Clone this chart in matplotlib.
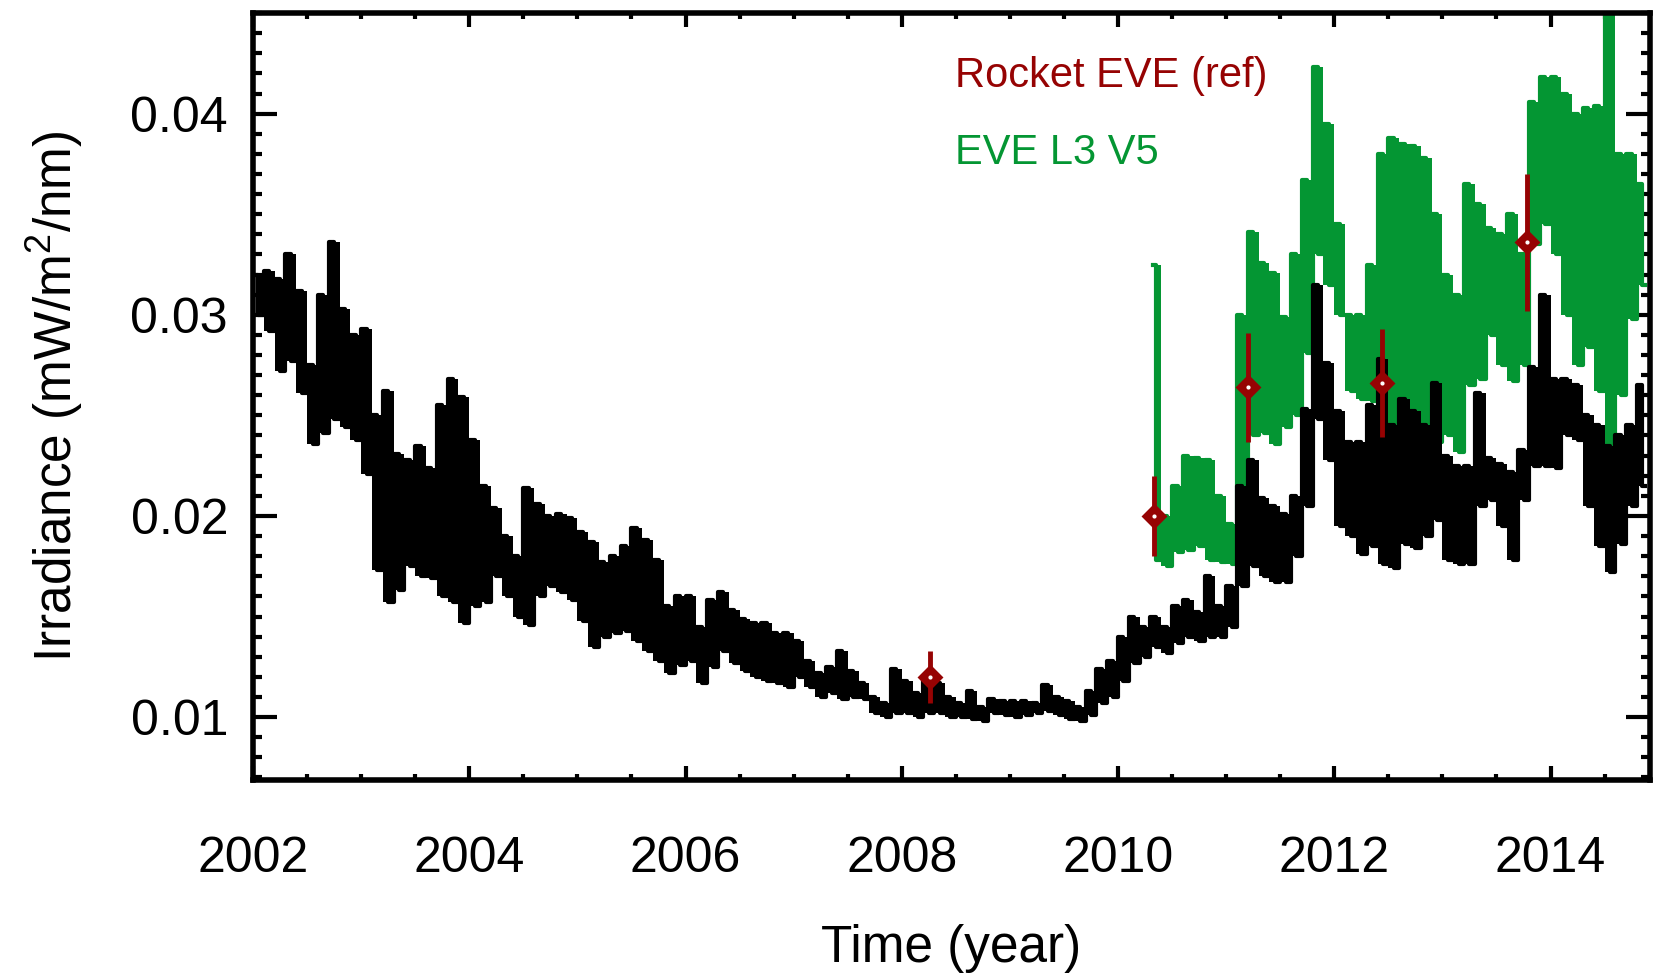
import numpy as np
import matplotlib.pyplot as plt
from matplotlib.ticker import MultipleLocator

plt.rcParams['font.family'] = 'Liberation Sans'
plt.rcParams['mathtext.fontset'] = 'custom'
plt.rcParams['mathtext.rm'] = 'Liberation Sans'
plt.rcParams['mathtext.it'] = 'Liberation Sans:italic'

# black series, read per 0.1 yr column: top and bottom of the daily scatter
black_t = np.round(np.arange(2002.05, 2014.9, 0.1), 2)
black_hi = [0.0320, 0.0322, 0.0318, 0.0330, 0.0312, 0.0275, 0.0310, 0.0336, 0.0303, 0.0290,
            0.0293, 0.0250, 0.0262, 0.0231, 0.0228, 0.0235, 0.0224, 0.0255, 0.0268, 0.0259,
            0.0238, 0.0215, 0.0204, 0.0190, 0.0180, 0.0214, 0.0206, 0.0200, 0.0201, 0.0199,
            0.0192, 0.0187, 0.0177, 0.0180, 0.0185, 0.0194, 0.0188, 0.0178, 0.0155, 0.0160,
            0.0160, 0.0145, 0.0158, 0.0162, 0.0153, 0.0149, 0.0147, 0.0147, 0.0142, 0.0142,
            0.0138, 0.0128, 0.0122, 0.0125, 0.0133, 0.0123, 0.0117, 0.0110, 0.0107, 0.0124,
            0.0118, 0.0112, 0.0120, 0.0117, 0.0110, 0.0107, 0.0113, 0.0105, 0.0109, 0.0108,
            0.0108, 0.0108, 0.0107, 0.0116, 0.0110, 0.0108, 0.0105, 0.0113, 0.0124, 0.0128,
            0.0140, 0.0150, 0.0145, 0.0150, 0.0145, 0.0155, 0.0158, 0.0152, 0.0170, 0.0155,
            0.0165, 0.0215, 0.0228, 0.0209, 0.0205, 0.0201, 0.0210, 0.0253, 0.0315, 0.0276,
            0.0252, 0.0237, 0.0237, 0.0255, 0.0278, 0.0245, 0.0258, 0.0252, 0.0245, 0.0266,
            0.0230, 0.0225, 0.0225, 0.0261, 0.0229, 0.0226, 0.0222, 0.0233, 0.0274, 0.0310,
            0.0268, 0.0268, 0.0265, 0.0250, 0.0245, 0.0235, 0.0240, 0.0245, 0.0265]
black_lo = [0.0300, 0.0292, 0.0272, 0.0277, 0.0261, 0.0236, 0.0241, 0.0248, 0.0244, 0.0238,
            0.0221, 0.0173, 0.0157, 0.0163, 0.0175, 0.0170, 0.0169, 0.0160, 0.0157, 0.0147,
            0.0155, 0.0157, 0.0170, 0.0160, 0.0150, 0.0146, 0.0160, 0.0165, 0.0162, 0.0158,
            0.0148, 0.0135, 0.0140, 0.0142, 0.0143, 0.0138, 0.0133, 0.0128, 0.0122, 0.0126,
            0.0128, 0.0117, 0.0125, 0.0133, 0.0127, 0.0123, 0.0120, 0.0118, 0.0117, 0.0115,
            0.0120, 0.0115, 0.0110, 0.0112, 0.0109, 0.0110, 0.0109, 0.0102, 0.0100, 0.0102,
            0.0102, 0.0100, 0.0102, 0.0102, 0.0100, 0.0100, 0.0099, 0.0098, 0.0102, 0.0101,
            0.0100, 0.0101, 0.0102, 0.0103, 0.0101, 0.0099, 0.0098, 0.0101, 0.0107, 0.0110,
            0.0118, 0.0127, 0.0130, 0.0135, 0.0132, 0.0137, 0.0140, 0.0138, 0.0140, 0.0140,
            0.0145, 0.0165, 0.0175, 0.0170, 0.0167, 0.0167, 0.0180, 0.0205, 0.0248, 0.0228,
            0.0195, 0.0190, 0.0181, 0.0185, 0.0176, 0.0174, 0.0186, 0.0184, 0.0190, 0.0198,
            0.0178, 0.0176, 0.0176, 0.0205, 0.0208, 0.0195, 0.0178, 0.0208, 0.0225, 0.0225,
            0.0224, 0.0240, 0.0238, 0.0205, 0.0185, 0.0172, 0.0186, 0.0205, 0.0215]

# EVE L3 V5
green_t = np.round(np.arange(2010.35, 2014.9, 0.1), 2)
green_hi = [0.0325, 0.0200, 0.0215, 0.0230, 0.0229, 0.0228, 0.0210, 0.0196, 0.0300, 0.0341,
            0.0326, 0.0321, 0.0299, 0.0330, 0.0367, 0.0423, 0.0395, 0.0345, 0.0300, 0.0300,
            0.0325, 0.0380, 0.0388, 0.0385, 0.0384, 0.0378, 0.0350, 0.0320, 0.0310, 0.0365,
            0.0355, 0.0343, 0.0340, 0.0350, 0.0330, 0.0406, 0.0418, 0.0418, 0.0410, 0.0400,
            0.0403, 0.0404, 0.0450, 0.0380, 0.0380, 0.0365]
green_lo = [0.0178, 0.0175, 0.0182, 0.0183, 0.0185, 0.0178, 0.0177, 0.0176, 0.0195, 0.0240,
            0.0241, 0.0236, 0.0244, 0.0250, 0.0281, 0.0330, 0.0315, 0.0300, 0.0262, 0.0258,
            0.0257, 0.0247, 0.0246, 0.0248, 0.0240, 0.0236, 0.0237, 0.0240, 0.0232, 0.0265,
            0.0268, 0.0290, 0.0275, 0.0267, 0.0275, 0.0335, 0.0345, 0.0330, 0.0300, 0.0275,
            0.0284, 0.0262, 0.0235, 0.0260, 0.0298, 0.0315]

# Rocket EVE (ref)
rocket_t = [2008.26, 2010.33, 2011.20, 2012.44, 2013.78]
rocket_v = [0.0120, 0.0200, 0.0264, 0.0266, 0.0336]
rocket_err = [0.0013, 0.0020, 0.0027, 0.0027, 0.0034]

xticks = [2002, 2004, 2006, 2008, 2010, 2012, 2014]
xlabels = ['2002', '2004', '2006', '2008', '2010', '2012', '2014']
yticks = [0.01, 0.02, 0.03, 0.04]
ylabels = ['0.01', '0.02', '0.03', '0.04']

dark_red = '#960303'
green = '#049633'


def zigzag(t, hi, lo):
    # upper value then lower value inside each column
    t = np.asarray(t)
    tt = np.column_stack([t - 0.025, t + 0.025]).ravel()
    vv = np.column_stack([hi, lo]).ravel()
    return tt, vv


def band(ax, t, hi, lo, color, z):
    ax.fill_between(t, lo, hi, step='mid', color=color, lw=0, zorder=z)
    tt, vv = zigzag(t, hi, lo)
    ax.plot(tt, vv, color=color, lw=3, drawstyle='steps-mid', zorder=z)


fig = plt.figure(figsize=(16.54, 9.77), dpi=100)
ax = fig.add_axes([0.153, 0.2016, 0.8446, 0.785])

band(ax, green_t, green_hi, green_lo, green, 2)
band(ax, black_t, black_hi, black_lo, 'black', 3)

ax.errorbar(rocket_t, rocket_v, yerr=rocket_err, fmt='D', color=dark_red, ecolor=dark_red,
            elinewidth=3.5, capsize=0, ms=11, mfc=dark_red, mec=dark_red, mew=2, zorder=4)
ax.plot(rocket_t, rocket_v, 'o', color='white', ms=2, zorder=5)

ax.set_xlim(2002.0, 2014.92)
ax.set_ylim(0.00687, 0.0450)

ax.set_xticks(xticks)
ax.set_xticklabels(xlabels)
ax.set_yticks(yticks)
ax.set_yticklabels(ylabels)
ax.xaxis.set_minor_locator(MultipleLocator(0.5))
ax.yaxis.set_minor_locator(MultipleLocator(0.001))

ax.tick_params(which='both', direction='in', top=True, right=True, width=3, labelsize=36)
ax.tick_params(axis='x', which='major', length=10, pad=40)
ax.tick_params(axis='x', which='minor', length=4.5)
ax.tick_params(axis='y', which='major', length=17, pad=18)
ax.tick_params(axis='y', which='minor', length=6.5)
for s in ax.spines.values():
    s.set_linewidth(4)

ax.set_xlabel('Time (year)', fontsize=37)
ax.xaxis.set_label_coords(0.5, -0.22)
ax.xaxis.label.set_va('center')
ax.set_ylabel('Irradiance (mW/m$^2$/nm)', fontsize=37)
ax.yaxis.set_label_coords(-0.1417, 0.5)
ax.yaxis.label.set_va('center')

ax.text(0.5025, 0.918, 'Rocket EVE (ref)', color=dark_red, fontsize=30,
        ha='left', va='center', transform=ax.transAxes)
ax.text(0.5025, 0.8175, 'EVE L3 V5', color=green, fontsize=30,
        ha='left', va='center', transform=ax.transAxes)

fig.savefig('out.png', dpi=100)
